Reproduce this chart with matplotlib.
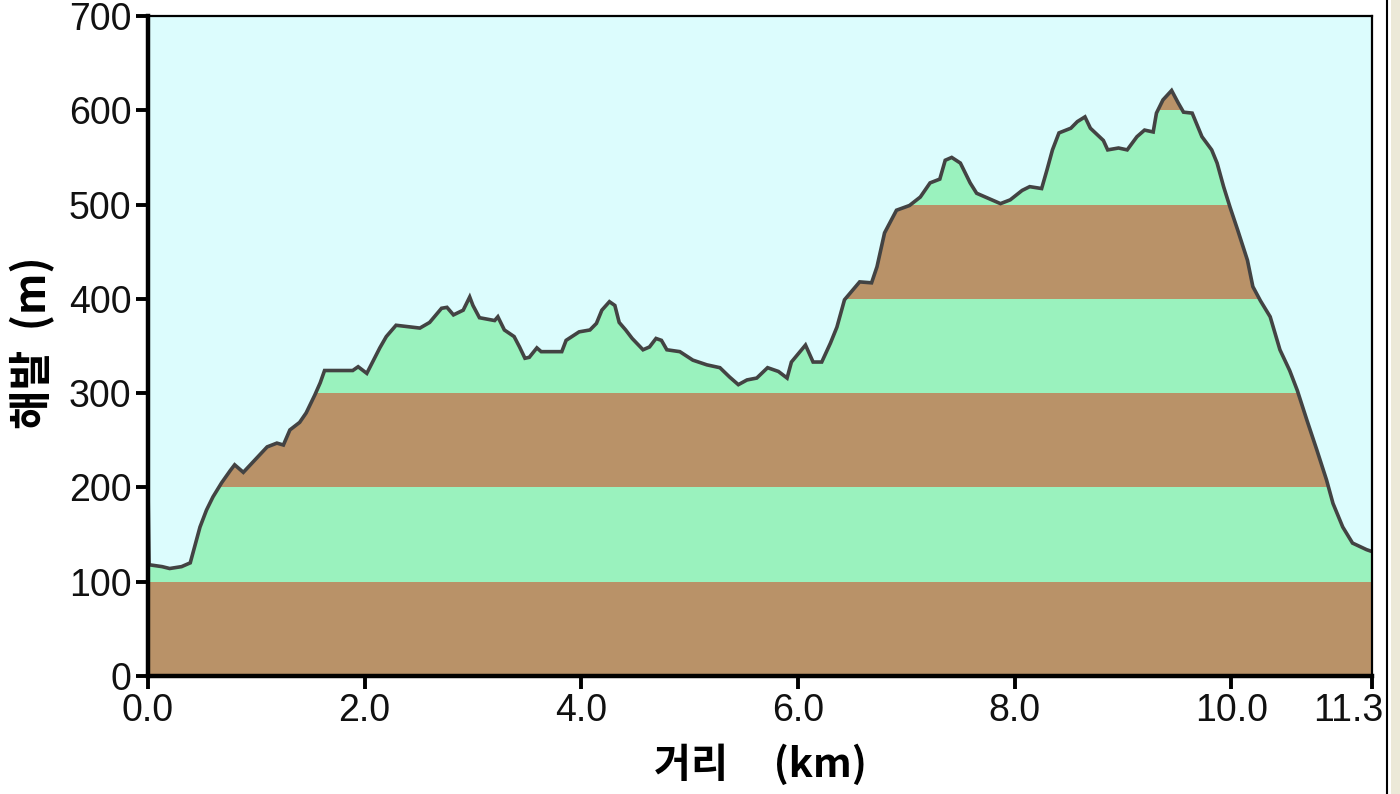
import numpy as np
import matplotlib
matplotlib.use("Agg")
import matplotlib.pyplot as plt
import matplotlib.transforms as mtransforms
from matplotlib.lines import Line2D
from matplotlib.patches import Rectangle

dist = [0.00, 0.01, 0.13, 0.20, 0.31, 0.39, 0.43, 0.48, 0.54, 0.60, 0.68, 0.76, 0.80, 0.88,
        1.01, 1.10, 1.19, 1.25, 1.31, 1.40, 1.46, 1.54, 1.59, 1.63, 1.89, 1.94, 2.02, 2.14,
        2.20, 2.29, 2.51, 2.60, 2.71, 2.76, 2.82, 2.91, 2.97, 3.00, 3.06, 3.20, 3.23, 3.29,
        3.38, 3.43, 3.48, 3.52, 3.59, 3.63, 3.82, 3.86, 3.98, 4.08, 4.14, 4.19, 4.26, 4.31,
        4.35, 4.41, 4.47, 4.57, 4.63, 4.69, 4.74, 4.79, 4.91, 5.03, 5.16, 5.28, 5.37, 5.45,
        5.53, 5.62, 5.72, 5.82, 5.90, 5.94, 6.07, 6.14, 6.22, 6.30, 6.36, 6.43, 6.57, 6.68,
        6.73, 6.80, 6.91, 7.03, 7.13, 7.22, 7.31, 7.36, 7.42, 7.50, 7.59, 7.65, 7.75, 7.87,
        7.96, 8.07, 8.14, 8.25, 8.30, 8.35, 8.41, 8.52, 8.58, 8.65, 8.70, 8.82, 8.86, 8.96,
        9.04, 9.13, 9.20, 9.28, 9.31, 9.37, 9.45, 9.51, 9.56, 9.64, 9.68, 9.73, 9.82, 9.87,
        9.93, 9.99, 10.06, 10.15, 10.20, 10.27, 10.36, 10.45, 10.54, 10.61, 10.70, 10.79,
        10.88, 10.94, 11.03, 11.12, 11.25, 11.30]
elev = [200, 118, 116, 114, 116, 120, 137, 158, 176, 190, 205, 218, 224, 216,
        232, 243, 247, 245, 261, 269, 279, 298, 311, 324, 324, 328, 321, 348,
        360, 372, 369, 375, 390, 391, 383, 388, 402, 393, 380, 377, 381, 367,
        360, 349, 337, 338, 348, 344, 344, 356, 365, 367, 374, 388, 397, 393,
        375, 367, 358, 346, 349, 358, 356, 346, 344, 335, 330, 327, 317, 309,
        314, 316, 327, 323, 316, 333, 351, 333, 333, 353, 370, 399, 418, 417,
        434, 470, 494, 499, 508, 523, 527, 547, 550, 544, 523, 512, 507, 501,
        505, 515, 519, 517, 537, 558, 576, 581, 588, 593, 581, 568, 558, 560,
        558, 572, 579, 577, 597, 611, 621, 608, 598, 597, 586, 572, 558, 544,
        519, 497, 473, 441, 413, 398, 381, 346, 324, 303, 271, 240,
        208, 183, 158, 141, 134, 132]

x_ticks = [0.0, 2.0, 4.0, 6.0, 8.0, 10.0, 11.3]
x_tick_labels = ["0.0", "2.0", "4.0", "6.0", "8.0", "10.0", "11.3"]
y_ticks = [0, 100, 200, 300, 400, 500, 600, 700]
band_edges = [0, 100, 200, 300, 400, 500, 600, 700]

BG = "#DCFCFD"
GREEN = "#9AF2BE"
BROWN = "#B99268"
LINE = "#434343"

W, H = 1400, 794
fig = plt.figure(figsize=(W / 100, H / 100), dpi=100)
fig.patch.set_facecolor("white")
ax = fig.add_axes([148 / W, 1 - 676 / H, (1372 - 148) / W, (676 - 16) / H])
ax.set_facecolor(BG)

# invisible area under the profile, used to clip the coloured elevation bands
area = ax.fill_between(dist, 0, elev, facecolor="none", edgecolor="none", zorder=0)
clip_path = area.get_paths()[0]
for i in range(len(band_edges) - 1):
    lo, hi = band_edges[i], band_edges[i + 1]
    col = BROWN if i % 2 == 0 else GREEN
    band = ax.axhspan(lo, hi, facecolor=col, edgecolor="none", zorder=1)
    band.set_clip_path(clip_path, ax.transData)
ax.plot(dist, elev, color=LINE, lw=2.6, zorder=3, solid_joinstyle="miter")

ax.set_xlim(0, 11.3)
ax.set_ylim(0, 700)
ax.set_xticks(x_ticks)
ax.set_xticklabels(x_tick_labels)
ax.set_yticks(y_ticks)
ax.set_yticklabels([str(v) for v in y_ticks])

for s in ["left", "bottom"]:
    ax.spines[s].set_linewidth(3.2)
for s in ["top", "right"]:
    ax.spines[s].set_linewidth(1.6)
for s in ax.spines.values():
    s.set_color("black")
    s.set_zorder(5)

ax.tick_params(axis="both", direction="out", length=9, width=2.8, color="black",
               labelsize=27, pad=3)
for lab in ax.get_xticklabels() + ax.get_yticklabels():
    lab.set_family(["Liberation Sans", "DejaVu Sans"])
    lab.set_color("#111111")

# last x label is pulled left so it stays inside the window, as in the reference
last = ax.get_xticklabels()[-1]
last.set_transform(last.get_transform() +
                   mtransforms.ScaledTranslation(-24 / 100, 0, fig.dpi_scale_trans))

fig.text(33 / W, 1 - 343 / H, "해발  (m)", rotation=90, ha="center", va="center",
         fontsize=31, fontweight="bold", family=["Noto Sans CJK KR", "DejaVu Sans"])
fig.text(760 / W, 1 - 765 / H, "거리     (km)", ha="center", va="center",
         fontsize=29, fontweight="bold", family=["Noto Sans CJK KR", "DejaVu Sans"])

# window frame at the right edge
fig.add_artist(Line2D([1387 / W, 1387 / W], [0, 1], transform=fig.transFigure,
                      color="black", lw=1.5))
fig.add_artist(Rectangle((1391 / W, 0), 9 / W, 1, transform=fig.transFigure,
                         facecolor="#ECE9D8", edgecolor="none"))

fig.savefig("out.png", dpi=100)
